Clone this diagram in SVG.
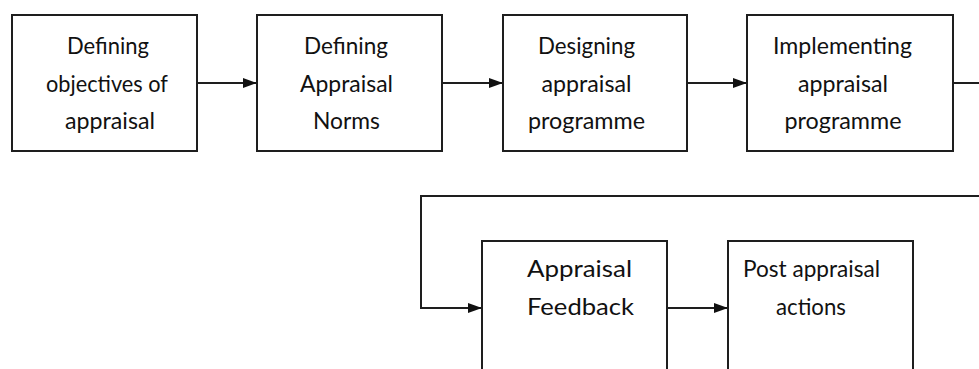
<svg xmlns="http://www.w3.org/2000/svg" width="979" height="369" viewBox="0 0 979 369">
<style>
.box{fill:#fff;stroke:#1e1e1e;stroke-width:2}
.con{fill:none;stroke:#1e1e1e;stroke-width:2}
text{font-family:Lato,"Liberation Sans",sans-serif;font-size:24px;fill:#111;text-anchor:middle}
</style>
<defs>
<marker id="ah" viewBox="0 0 14 10" refX="14" refY="5" markerWidth="14" markerHeight="10" markerUnits="userSpaceOnUse" orient="auto">
<path d="M0,0 L14,5 L0,10 Z" fill="#111"/>
</marker>
</defs>
<rect width="979" height="369" fill="#fff"/>
<g id="connectors">
<line class="con" x1="197" y1="83" x2="257" y2="83" marker-end="url(#ah)"/>
<line class="con" x1="442" y1="83" x2="503" y2="83" marker-end="url(#ah)"/>
<line class="con" x1="687" y1="83" x2="747" y2="83" marker-end="url(#ah)"/>
<line class="con" x1="953" y1="83" x2="979" y2="83"/>
<path class="con" d="M979,196 H421 V308 H482" marker-end="url(#ah)"/>
<line class="con" x1="667" y1="308" x2="728" y2="308" marker-end="url(#ah)"/>
</g>
<g id="n1">
<rect class="box" x="12" y="15" width="185" height="136"/>
<text x="108" y="54" textLength="82" lengthAdjust="spacingAndGlyphs">Defining</text>
<text x="107" y="92" textLength="122" lengthAdjust="spacingAndGlyphs">objectives of</text>
<text x="110" y="129" textLength="90" lengthAdjust="spacingAndGlyphs">appraisal</text>
</g>
<g id="n2">
<rect class="box" x="257" y="15" width="185" height="136"/>
<text x="346" y="54" textLength="84" lengthAdjust="spacingAndGlyphs">Defining</text>
<text x="346.5" y="92" textLength="93" lengthAdjust="spacingAndGlyphs">Appraisal</text>
<text x="346.5" y="129" textLength="67" lengthAdjust="spacingAndGlyphs">Norms</text>
</g>
<g id="n3">
<rect class="box" x="503" y="15" width="184" height="136"/>
<text x="586.5" y="54" textLength="97" lengthAdjust="spacingAndGlyphs">Designing</text>
<text x="586.5" y="92" textLength="90" lengthAdjust="spacingAndGlyphs">appraisal</text>
<text x="586.5" y="129" textLength="117" lengthAdjust="spacingAndGlyphs">programme</text>
</g>
<g id="n4">
<rect class="box" x="747" y="15" width="206" height="136"/>
<text x="842.5" y="54" textLength="139" lengthAdjust="spacingAndGlyphs">Implementing</text>
<text x="843" y="92" textLength="90" lengthAdjust="spacingAndGlyphs">appraisal</text>
<text x="843" y="129" textLength="117" lengthAdjust="spacingAndGlyphs">programme</text>
</g>
<g id="n5">
<rect class="box" x="482" y="241" width="185" height="140"/>
<text x="579.5" y="277" textLength="105" lengthAdjust="spacingAndGlyphs">Appraisal</text>
<text x="580.5" y="315" textLength="107" lengthAdjust="spacingAndGlyphs">Feedback</text>
</g>
<g id="n6">
<rect class="box" x="728" y="241" width="185" height="140"/>
<text x="811.5" y="277" textLength="137" lengthAdjust="spacingAndGlyphs">Post appraisal</text>
<text x="811" y="315" textLength="70" lengthAdjust="spacingAndGlyphs">actions</text>
</g>
</svg>
